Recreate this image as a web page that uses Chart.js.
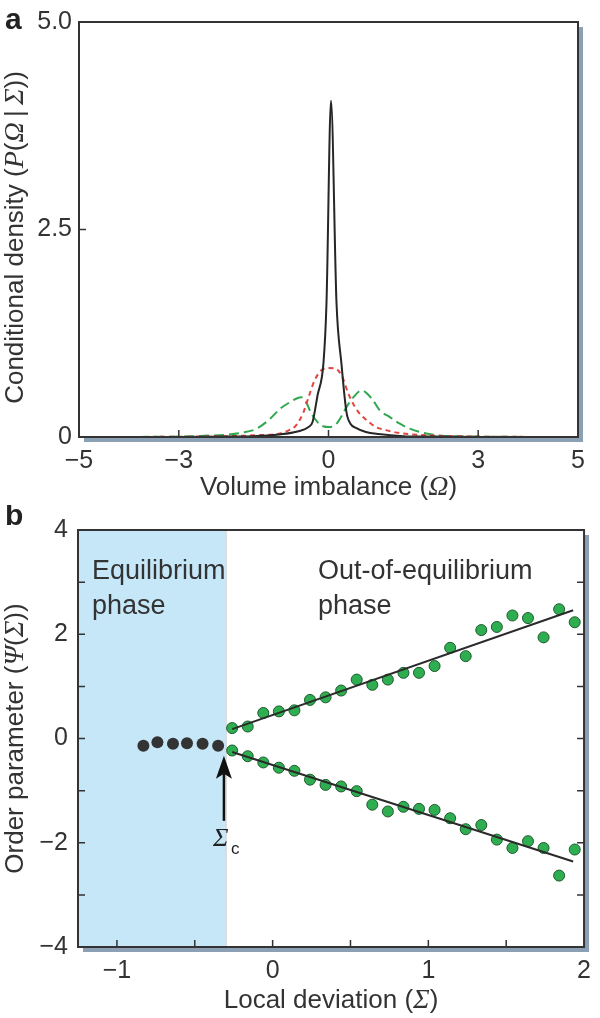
<!DOCTYPE html>
<html>
<head>
<meta charset="utf-8">
<script src="https://cdn.jsdelivr.net/npm/chart.js@4.4.0/dist/chart.umd.min.js"></script>
<style>
  html, body { margin: 0; padding: 0; background: #fff; }
  #wrap { position: relative; width: 600px; height: 1018px; }
  canvas { position: absolute; left: 0; }
</style>
</head>
<body>
<div id="wrap">
  <canvas id="chartA" width="600" height="505" style="top:0"></canvas>
  <canvas id="chartB" width="600" height="513" style="top:505px"></canvas>
</div>
<script>
// ---- panel a: conditional densities
var omegaBlack = [-5, -3, -2, -1.5, -1, -0.6, -0.4, -0.32, -0.22, -0.1, -0.04, 0.05, 0.16, 0.26, 0.36, 0.44, 0.55, 0.75, 1.0, 1.5, 2, 3, 5];
var densityBlack = [0, 0, 0.005, 0.01, 0.03, 0.07, 0.12, 0.18, 0.5, 0.9, 1.62, 4.05, 1.62, 0.88, 0.3, 0.16, 0.11, 0.06, 0.035, 0.01, 0.005, 0, 0];

var omegaRed = [-5, -3, -2, -1.5, -1.0, -0.8, -0.65, -0.5, -0.4, -0.28, -0.15, 0, 0.15, 0.28, 0.38, 0.46, 0.6, 0.77, 0.95, 1.17, 1.4, 1.7, 2.2, 3, 5];
var densityRed = [0, 0.003, 0.01, 0.02, 0.04, 0.08, 0.14, 0.3, 0.48, 0.68, 0.8, 0.83, 0.82, 0.72, 0.55, 0.44, 0.3, 0.2, 0.12, 0.08, 0.05, 0.03, 0.015, 0.005, 0];

var omegaGreen = [-5, -3, -2.5, -2, -1.75, -1.44, -1.17, -0.97, -0.77, -0.55, -0.45, -0.34, -0.22, -0.11, 0.02, 0.16, 0.26, 0.36, 0.5, 0.66, 0.87, 1.03, 1.23, 1.43, 1.63, 1.83, 2.2, 3, 5];
var densityGreen = [0, 0.005, 0.015, 0.03, 0.05, 0.1, 0.22, 0.34, 0.42, 0.48, 0.42, 0.28, 0.18, 0.13, 0.12, 0.16, 0.25, 0.36, 0.48, 0.56, 0.46, 0.32, 0.24, 0.16, 0.1, 0.06, 0.02, 0.005, 0];

var ticksOmega = [-5, -3, 0, 3, 5];
var ticksDensity = [0, 2.5, 5];

// ---- panel b: order parameter
var sigmaEq = [-0.83, -0.74, -0.64, -0.55, -0.45, -0.35];
var psiEq = [-0.14, -0.07, -0.1, -0.09, -0.1, -0.14];

var sigmaOut = [-0.26, -0.16, -0.06, 0.04, 0.14, 0.24, 0.34, 0.44, 0.54, 0.64, 0.74, 0.84, 0.94, 1.04, 1.14, 1.24, 1.34, 1.44, 1.54, 1.64, 1.74, 1.84, 1.94];
var psiUpper = [0.2, 0.23, 0.49, 0.52, 0.54, 0.74, 0.79, 0.92, 1.13, 1.03, 1.13, 1.26, 1.26, 1.39, 1.74, 1.58, 2.08, 2.14, 2.36, 2.31, 1.94, 2.48, 2.23];
var psiLower = [-0.23, -0.34, -0.46, -0.56, -0.62, -0.79, -0.89, -0.92, -1.01, -1.27, -1.4, -1.31, -1.35, -1.37, -1.53, -1.74, -1.66, -1.94, -2.1, -1.97, -2.1, -2.63, -2.13];

var fitSigma = [-0.26, 1.93];
var fitUpper = [0.18, 2.46];
var fitLower = [-0.26, -2.36];

var sigmaC = -0.3;
var arrowPsi = [-1.58, -0.33];
var ticksSigma = [-1, 0, 1, 2];
var ticksPsi = [-4, -2, 0, 2, 4];

var FONT = "'Liberation Sans', Arial, sans-serif";
var SERIF = "'Liberation Serif', 'Times New Roman', serif";
var INK = '#333';

// axis titles as [text, italic] pieces
var titleOmega = [['Volume imbalance (', 0], ['\u03A9', 1], [')', 0]];
var titleDensity = [['Conditional density (', 0], ['P', 1], ['(', 0], ['\u03A9', 1], ['\u2009|\u2009', 0], ['\u03A3', 1], ['))', 0]];
var titleSigma = [['Local deviation (', 0], ['\u03A3', 1], [')', 0]];
var titlePsi = [['Order parameter (', 0], ['\u03A8', 1], ['(', 0], ['\u03A3', 1], ['))', 0]];

function toPoints(xs, ys) {
  return xs.map(function (x, i) { return { x: x, y: ys[i] }; });
}
function fmt(v) {
  return v < 0 ? '\u2212' + Math.abs(v) : String(v);
}

function drawPieces(ctx, pieces, cx, cy, rotate) {
  var fonts = ["26px " + FONT, "italic 28px " + SERIF];
  var total = 0;
  pieces.forEach(function (p) {
    ctx.font = fonts[p[1]];
    total += ctx.measureText(p[0]).width;
  });
  ctx.save();
  ctx.translate(cx, cy);
  if (rotate) ctx.rotate(-Math.PI / 2);
  ctx.fillStyle = INK;
  ctx.textAlign = 'left';
  ctx.textBaseline = 'middle';
  var x = -total / 2;
  pieces.forEach(function (p) {
    ctx.font = fonts[p[1]];
    ctx.fillText(p[0], x, 0);
    x += ctx.measureText(p[0]).width;
  });
  ctx.restore();
}

// shadow, white box, frame, inward ticks, titles and panel letter
const framePlugin = {
  id: 'frame',
  beforeDraw(chart, args, opts) {
    const { ctx, chartArea: a } = chart;
    ctx.save();
    ctx.fillStyle = '#8b9fb5';
    ctx.fillRect(a.left + 5, a.top + 5, a.right - a.left, a.bottom - a.top);
    ctx.fillStyle = '#fff';
    ctx.fillRect(a.left, a.top, a.right - a.left, a.bottom - a.top);
    ctx.restore();
  },
  afterDraw(chart, args, opts) {
    const { ctx, chartArea: a, scales } = chart;
    ctx.save();
    ctx.strokeStyle = INK;
    ctx.lineWidth = 2;
    ctx.strokeRect(a.left, a.top, a.right - a.left, a.bottom - a.top);
    ctx.lineWidth = 1.5;
    ctx.beginPath();
    (opts.xMarks || []).forEach(function (v) {
      const px = scales.x.getPixelForValue(v);
      ctx.moveTo(px, a.bottom);
      ctx.lineTo(px, a.bottom - 7);
    });
    (opts.yMarks || []).forEach(function (v) {
      const py = scales.y.getPixelForValue(v);
      ctx.moveTo(a.left, py);
      ctx.lineTo(a.left + 7, py);
      if (opts.rightMarks) {
        ctx.moveTo(a.right, py);
        ctx.lineTo(a.right - 7, py);
      }
    });
    ctx.stroke();
    ctx.fillStyle = '#222';
    ctx.font = "bold 30px " + FONT;
    ctx.textAlign = 'left';
    ctx.textBaseline = 'alphabetic';
    ctx.fillText(opts.letter, 5, opts.letterY);
    ctx.restore();

    drawPieces(ctx, opts.xTitle, (a.left + a.right) / 2, chart.height - opts.xTitleGap, false);
    drawPieces(ctx, opts.yTitle, 16, (a.top + a.bottom) / 2 + (opts.yTitleShift || 0), true);
  }
};

// equilibrium shading, arrow and phase texts
const phasePlugin = {
  id: 'phase',
  beforeDatasetsDraw(chart) {
    const { ctx, chartArea: a, scales } = chart;
    const xc = scales.x.getPixelForValue(sigmaC);
    ctx.save();
    ctx.fillStyle = '#c6e7f8';
    ctx.fillRect(a.left, a.top, xc - a.left, a.bottom - a.top);
    ctx.fillStyle = '#dcdcdc';
    ctx.fillRect(xc - 1, a.top, 2, a.bottom - a.top);
    ctx.restore();
  },
  afterDraw(chart) {
    const { ctx, chartArea: a, scales } = chart;
    const xc = scales.x.getPixelForValue(sigmaC) - 2;
    const yBottom = scales.y.getPixelForValue(arrowPsi[0]);
    const yTip = scales.y.getPixelForValue(arrowPsi[1]);
    ctx.save();
    ctx.strokeStyle = '#111';
    ctx.fillStyle = '#111';
    ctx.lineWidth = 2.5;
    ctx.beginPath();
    ctx.moveTo(xc, yBottom);
    ctx.lineTo(xc, yTip + 18);
    ctx.stroke();
    ctx.beginPath();
    ctx.moveTo(xc, yTip);
    ctx.lineTo(xc - 8, yTip + 23);
    ctx.lineTo(xc, yTip + 18);
    ctx.lineTo(xc + 8, yTip + 23);
    ctx.closePath();
    ctx.fill();

    ctx.fillStyle = '#222';
    ctx.textAlign = 'left';
    ctx.textBaseline = 'alphabetic';
    ctx.font = "italic 26px " + SERIF;
    ctx.fillText('\u03A3', xc - 11, yBottom + 25);
    ctx.font = "17px " + FONT;
    ctx.fillText('c', xc + 7, yBottom + 33);

    ctx.fillStyle = INK;
    ctx.font = "27px " + FONT;
    ctx.fillText('Equilibrium', a.left + 14, a.top + 49);
    ctx.fillText('phase', a.left + 14, a.top + 84);
    ctx.fillText('Out-of-equilibrium', a.left + 240, a.top + 49);
    ctx.fillText('phase', a.left + 240, a.top + 84);
    ctx.restore();
  }
};

function axisX(min, max, ticksList, tickPad, height) {
  return {
    type: 'linear',
    min: min,
    max: max,
    grid: { display: false, drawTicks: false },
    border: { display: false },
    afterBuildTicks: function (scale) {
      scale.ticks = ticksList.map(function (v) { return { value: v }; });
    },
    afterFit: function (scale) { scale.height = height; },
    ticks: {
      color: INK,
      padding: tickPad,
      maxRotation: 0,
      font: { family: FONT, size: 25 },
      callback: function (v) { return fmt(v); }
    },
    title: { display: false }
  };
}

function axisY(min, max, ticksList, tickPad, width, labelFn) {
  return {
    type: 'linear',
    min: min,
    max: max,
    grid: { display: false, drawTicks: false },
    border: { display: false },
    afterBuildTicks: function (scale) {
      scale.ticks = ticksList.map(function (v) { return { value: v }; });
    },
    afterFit: function (scale) { scale.width = width; },
    ticks: {
      color: INK,
      padding: tickPad,
      font: { family: FONT, size: 25 },
      callback: labelFn
    },
    title: { display: false }
  };
}

new Chart(document.getElementById('chartA'), {
  type: 'line',
  data: {
    datasets: [
      {
        data: toPoints(omegaBlack, densityBlack),
        borderColor: '#262626',
        borderWidth: 2,
        pointRadius: 0,
        cubicInterpolationMode: 'monotone'
      },
      {
        data: toPoints(omegaRed, densityRed),
        borderColor: '#e2463f',
        borderWidth: 2,
        borderDash: [5, 4],
        pointRadius: 0,
        cubicInterpolationMode: 'monotone'
      },
      {
        data: toPoints(omegaGreen, densityGreen),
        borderColor: '#2fa84f',
        borderWidth: 2,
        borderDash: [10, 5],
        pointRadius: 0,
        cubicInterpolationMode: 'monotone'
      }
    ]
  },
  options: {
    responsive: false,
    animation: false,
    layout: { padding: { top: 15, right: 22, left: 0, bottom: 0 } },
    plugins: {
      legend: { display: false },
      tooltip: { enabled: false },
      frame: {
        xMarks: [-3, 0, 3], yMarks: [2.5], letter: 'a', letterY: 29,
        xTitle: titleOmega, yTitle: titleDensity, xTitleGap: 17, yTitleShift: 8
      }
    },
    scales: {
      x: axisX(-5, 5, ticksOmega, 9, 68),
      y: axisY(0, 5, ticksDensity, 7, 79,
        function (v) { return v === 0 ? '0' : v.toFixed(1); })
    }
  },
  plugins: [framePlugin]
});

new Chart(document.getElementById('chartB'), {
  type: 'scatter',
  data: {
    datasets: [
      {
        data: toPoints(fitSigma, fitUpper),
        showLine: true,
        borderColor: '#2a2a2a',
        borderWidth: 2,
        pointRadius: 0
      },
      {
        data: toPoints(fitSigma, fitLower),
        showLine: true,
        borderColor: '#2a2a2a',
        borderWidth: 2,
        pointRadius: 0
      },
      {
        data: toPoints(sigmaOut, psiUpper),
        pointRadius: 5.5,
        backgroundColor: '#2fae51',
        borderColor: '#1d5b2d',
        borderWidth: 1
      },
      {
        data: toPoints(sigmaOut, psiLower),
        pointRadius: 5.5,
        backgroundColor: '#2fae51',
        borderColor: '#1d5b2d',
        borderWidth: 1
      },
      {
        data: toPoints(sigmaEq, psiEq),
        pointRadius: 6,
        backgroundColor: '#333',
        borderColor: '#333',
        borderWidth: 0
      }
    ]
  },
  options: {
    responsive: false,
    animation: false,
    layout: { padding: { top: 16, right: 12, left: 0, bottom: 0 } },
    plugins: {
      legend: { display: false },
      tooltip: { enabled: false },
      frame: {
        xMarks: [-1, -0.5, 0, 0.5, 1, 1.5],
        yMarks: [-3, -2, -1, 0, 1, 2, 3],
        rightMarks: true,
        letter: 'b',
        letterY: 20,
        xTitle: titleSigma, yTitle: titlePsi, xTitleGap: 17
      }
    },
    scales: {
      x: axisX(-1.25, 2, ticksSigma, 9, 71),
      y: axisY(-4, 4, ticksPsi, 10, 78,
        function (v) { return fmt(v); })
    }
  },
  plugins: [framePlugin, phasePlugin]
});
</script>
</body>
</html>
